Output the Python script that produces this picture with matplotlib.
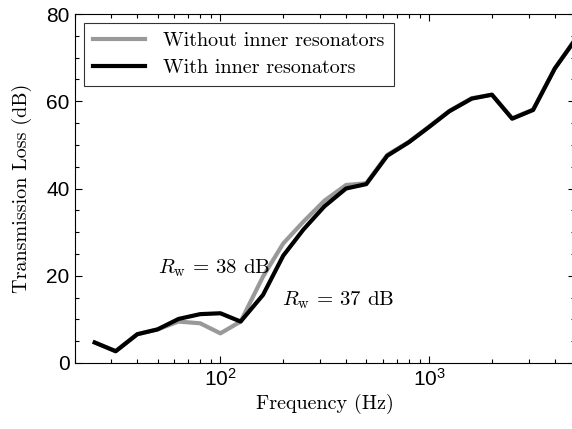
import math
import matplotlib
matplotlib.use("Agg")
import matplotlib.pyplot as plt
from matplotlib.ticker import FixedLocator, FuncFormatter, MultipleLocator, LogLocator, NullFormatter

plt.rcParams['font.family'] = ['Liberation Sans', 'DejaVu Sans']
plt.rcParams['mathtext.fontset'] = 'cm'
SERIF = ['cmr10', 'DejaVu Serif']

# third-octave band centre frequencies (Hz)
freq = [25, 31.5, 40, 50, 63, 80, 100, 125, 160, 200, 250, 315, 400, 500,
        630, 800, 1000, 1250, 1600, 2000, 2500, 3150, 4000, 5000]

# transmission loss (dB)
tl_without = [4.7, 2.7, 6.6, 7.7, 9.5, 9.1, 6.8, 9.5, 19.8, 27.4, 32.4, 37.2, 40.8, 41.2,
              47.7, 50.7, 54.2, 57.8, 60.7, 61.5, 56.1, 58.1, 67.5, 74.2]
tl_with = [4.7, 2.7, 6.6, 7.7, 10.1, 11.2, 11.4, 9.5, 15.6, 24.6, 30.6, 35.9, 40.0, 41.0,
           47.5, 50.6, 54.1, 57.7, 60.6, 61.5, 56.0, 58.0, 67.5, 74.0]

fig = plt.figure(figsize=(5.72, 4.29), dpi=100)
ax = fig.add_axes([74.5 / 572, 66 / 429, 500.5 / 572, 349 / 429])

ax.plot(freq, tl_without, color='#999999', lw=3, label='Without inner resonators')
ax.plot(freq, tl_with, color='black', lw=3, label='With inner resonators')

ax.set_xscale('log')
ax.set_xlim(20, 5000)
ax.set_ylim(0, 80)

ax.xaxis.set_major_locator(FixedLocator([100, 1000]))
ax.xaxis.set_major_formatter(FuncFormatter(
    lambda v, p: r'$\mathregular{10^{%d}}$' % round(math.log10(v))))
ax.xaxis.set_minor_locator(LogLocator(base=10, subs=range(2, 10)))
ax.xaxis.set_minor_formatter(NullFormatter())

ax.yaxis.set_major_locator(MultipleLocator(20))
ax.yaxis.set_minor_locator(MultipleLocator(5))
ax.yaxis.set_major_formatter(FuncFormatter(lambda v, p: '%d' % v))

ax.tick_params(which='both', direction='in', top=True, right=True, labelsize=15)
ax.tick_params(which='major', length=5, width=0.8)
ax.tick_params(which='minor', length=3, width=0.8)

ax.set_xlabel('Frequency (Hz)', fontsize=14.5, family=SERIF, labelpad=3)
ax.set_ylabel('Transmission Loss (dB)', fontsize=14.5, family=SERIF, labelpad=10)

ax.text(50, 20.6, r'$R_{\mathrm{w}} \,=\, 38$ dB', fontsize=15, family=SERIF,
        ha='left', va='baseline')
ax.text(198, 13.3, r'$R_{\mathrm{w}} \,=\, 37$ dB', fontsize=15, family=SERIF,
        ha='left', va='baseline')

leg = ax.legend(loc='upper left', prop={'family': SERIF, 'size': 14.5}, frameon=True,
                fancybox=False, edgecolor='black', handlelength=2.6, borderaxespad=0.45,
                borderpad=0.45, labelspacing=0.45, handletextpad=0.9)
leg.get_frame().set_linewidth(0.8)

fig.savefig('out.png', dpi=100)
